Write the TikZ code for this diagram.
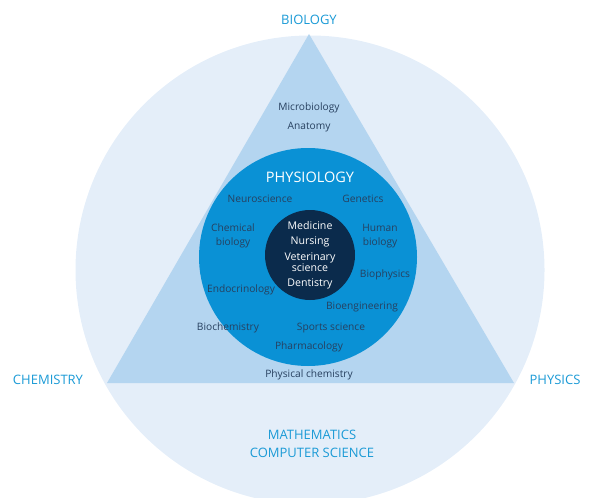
\documentclass[tikz,border=0pt]{standalone}
\usepackage{fontspec}
\setmainfont{Open Sans}
\usepackage{tikz}
\definecolor{outerfill}{HTML}{E4EEF9}
\definecolor{trianglefill}{HTML}{B4D5F0}
\definecolor{physiofill}{HTML}{0A91D5}
\definecolor{corefill}{HTML}{0B2B4C}
\definecolor{fieldtext}{HTML}{27405F}
\definecolor{sciencetext}{HTML}{1A9AD6}

\begin{document}
\begin{tikzpicture}[x=1pt, y=-1pt,
	science/.style={text=sciencetext, font=\fontsize{13}{15}\selectfont, align=center},
	field/.style={text=fieldtext, font=\fontsize{10.2}{14}\selectfont, align=center},
	corefield/.style={text=white, font=\fontsize{10.6}{11}\selectfont, align=center}]
		%%%%% START %%%%%
		
		\useasboundingbox (0, 0) rectangle (593, 497);
		
		\fill[outerfill] (310, 270) circle (234.5);
		\fill[trianglefill] (309, 34) -- (107, 383) -- (514, 383) -- cycle;
		\fill[physiofill] (308, 257) circle (109);
		\fill[corefill] (310, 255) circle (45);
		
		\node[science] (biology) at (309, 20) {BIOLOGY};
		\node[science] (chemistry) at (48, 380) {CHEMISTRY};
		\node[science] (physics) at (555, 380) {PHYSICS};
		\node[science] (maths) at (312, 443.5) {MATHEMATICS\\[3pt]COMPUTER SCIENCE};
		
		\node[field] (microbio) at (309, 108) {Microbiology};
		\node[field] (anatomy) at (309, 127) {Anatomy};
		\node[field] (physchem) at (309, 375) {Physical chemistry};
		
		\node[science, text=white, font=\fontsize{14.5}{16}\selectfont] (physiology) at (310, 177) {PHYSIOLOGY};
		\node[field] (neuro) at (260, 199) {Neuroscience};
		\node[field] (genetics) at (363, 199) {Genetics};
		\node[field] (chembio) at (233, 236) {Chemical\\biology};
		\node[field] (humanbio) at (380, 236.5) {Human\\biology};
		\node[field] (biophys) at (385, 275) {Biophysics};
		\node[field] (endo) at (241, 290) {Endocrinology};
		\node[field] (bioeng) at (362, 307) {Bioengineering};
		\node[field] (biochem) at (228, 328) {Biochemistry};
		\node[field] (sports) at (331, 328) {Sports science};
		\node[field] (pharma) at (309, 347) {Pharmacology};
		
		\node[corefield] (medicine) at (310, 226) {Medicine};
		\node[corefield] (nursing) at (310, 242) {Nursing};
		\node[corefield] (vet) at (310, 262.5) {Veterinary\\science};
		\node[corefield] (dentistry) at (310, 284) {Dentistry};
		
		%%%%% END %%%%%
	\end{tikzpicture}
\end{document}
